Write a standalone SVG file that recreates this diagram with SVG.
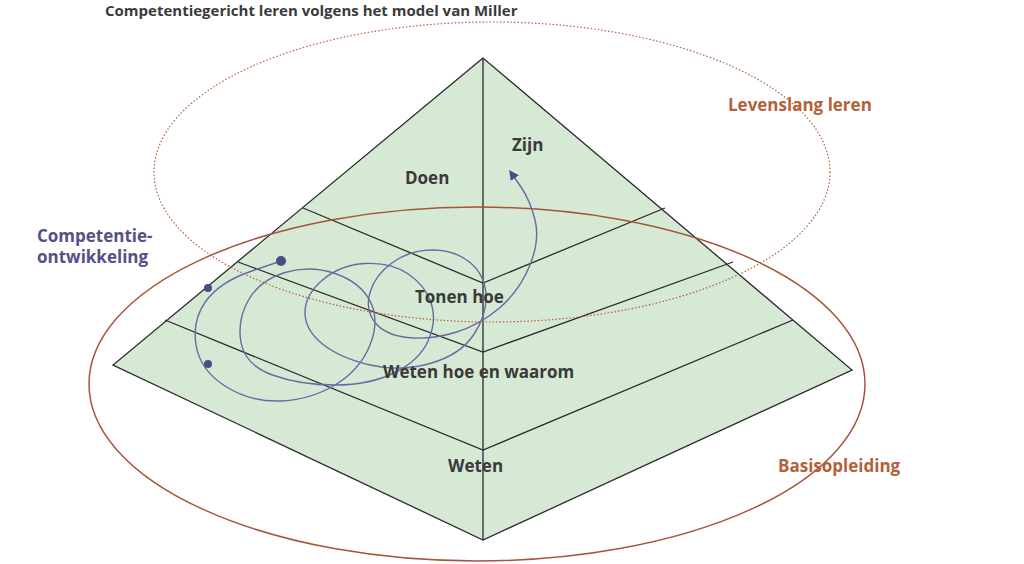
<svg xmlns="http://www.w3.org/2000/svg" width="1024" height="564" viewBox="0 0 1024 564">
<style>
text{font-family:"Open Sans","Liberation Sans",sans-serif;font-weight:bold}
.lbl{font-size:17px;fill:#3a3a3a}
.edge{stroke:#2a2a2a;stroke-width:1.3;fill:none}
</style>
<defs><marker id="ah" markerWidth="10" markerHeight="10" refX="5" refY="5" orient="auto" markerUnits="userSpaceOnUse"><path d="M0,0 L10,5 L0,10 z" fill="#4b4a8a"/></marker></defs>
<rect width="1024" height="564" fill="#fff"/>
<g id="pyramid">
<polygon points="483,58 113,365 483,540 852,370" fill="#d5e9d4"/>
<polygon class="edge" points="483,58 113,365 483,540 852,370"/>
<line class="edge" x1="483" y1="58" x2="483" y2="540"/>
<polyline class="edge" points="303,208 483,283 665,208"/>
<polyline class="edge" points="238,262 483,352 733,262"/>
<polyline class="edge" points="165,320 483,450 793,320"/>
</g>
<g id="ellipses" fill="none">
<ellipse cx="492" cy="172" rx="338" ry="150" stroke="#b4603a" stroke-width="1.2" stroke-dasharray="1.5,2"/>
<ellipse cx="477" cy="384" rx="388" ry="177" stroke="#a5553a" stroke-width="1.5"/>
</g>
<g id="connectors">
<path d="M281,261 L250.5,271.5 Q220,282 206,301 Q192,320 196,345 Q200,370 225,386 Q250,402 280,401 Q310,400 335,385 Q360,370 370,345 Q380,320 370,301 Q360,282 335,273.5 Q310,265 285,272.5 Q260,280 248.5,300 Q237,320 241,342.5 Q245,365 272.5,375 Q300,385 335,385 Q370,385 395,372.5 Q420,360 428.5,340 Q437,320 431,302.5 Q425,285 407.5,273.5 Q390,262 365,263.5 Q340,265 322.5,280 Q305,295 305,312.5 Q305,330 322.5,344 Q340,358 370,365 Q400,372 430,363.5 Q460,355 473.5,335 Q487,315 486,295 Q485,275 470,262.5 Q455,250 432.5,250 Q410,250 392.5,262.5 Q375,275 370,292.5 Q365,310 375,322.5 Q385,335 407.5,337.5 Q430,340 455,332.5 Q480,325 500,307.5 Q520,290 530,265 Q540,240 535,220 Q530,200 521,187 L512,174" fill="none" stroke="#6a6aa0" stroke-width="1.4" marker-end="url(#ah)"/>
<circle cx="281" cy="261" r="5" fill="#4b4a8a"/>
<circle cx="208" cy="288" r="4" fill="#4b4a8a"/>
<circle cx="208" cy="364" r="4" fill="#4b4a8a"/>
</g>
<g id="labels">
<text x="105" y="16" font-size="15" fill="#3a3a3a">Competentiegericht leren volgens het model van Miller</text>
<text class="lbl" x="405" y="184">Doen</text>
<text class="lbl" x="512" y="151">Zijn</text>
<text class="lbl" x="415" y="303">Tonen hoe</text>
<text class="lbl" x="383" y="378">Weten hoe en waarom</text>
<text class="lbl" x="448" y="472">Weten</text>
<text x="728" y="111" font-size="17" fill="#b4603a">Levenslang leren</text>
<text x="778" y="472" font-size="17" fill="#b4603a">Basisopleiding</text>
<text x="37" y="242" font-size="17" fill="#55508a">Competentie-</text>
<text x="37" y="263" font-size="17" fill="#55508a">ontwikkeling</text>
</g>
</svg>
